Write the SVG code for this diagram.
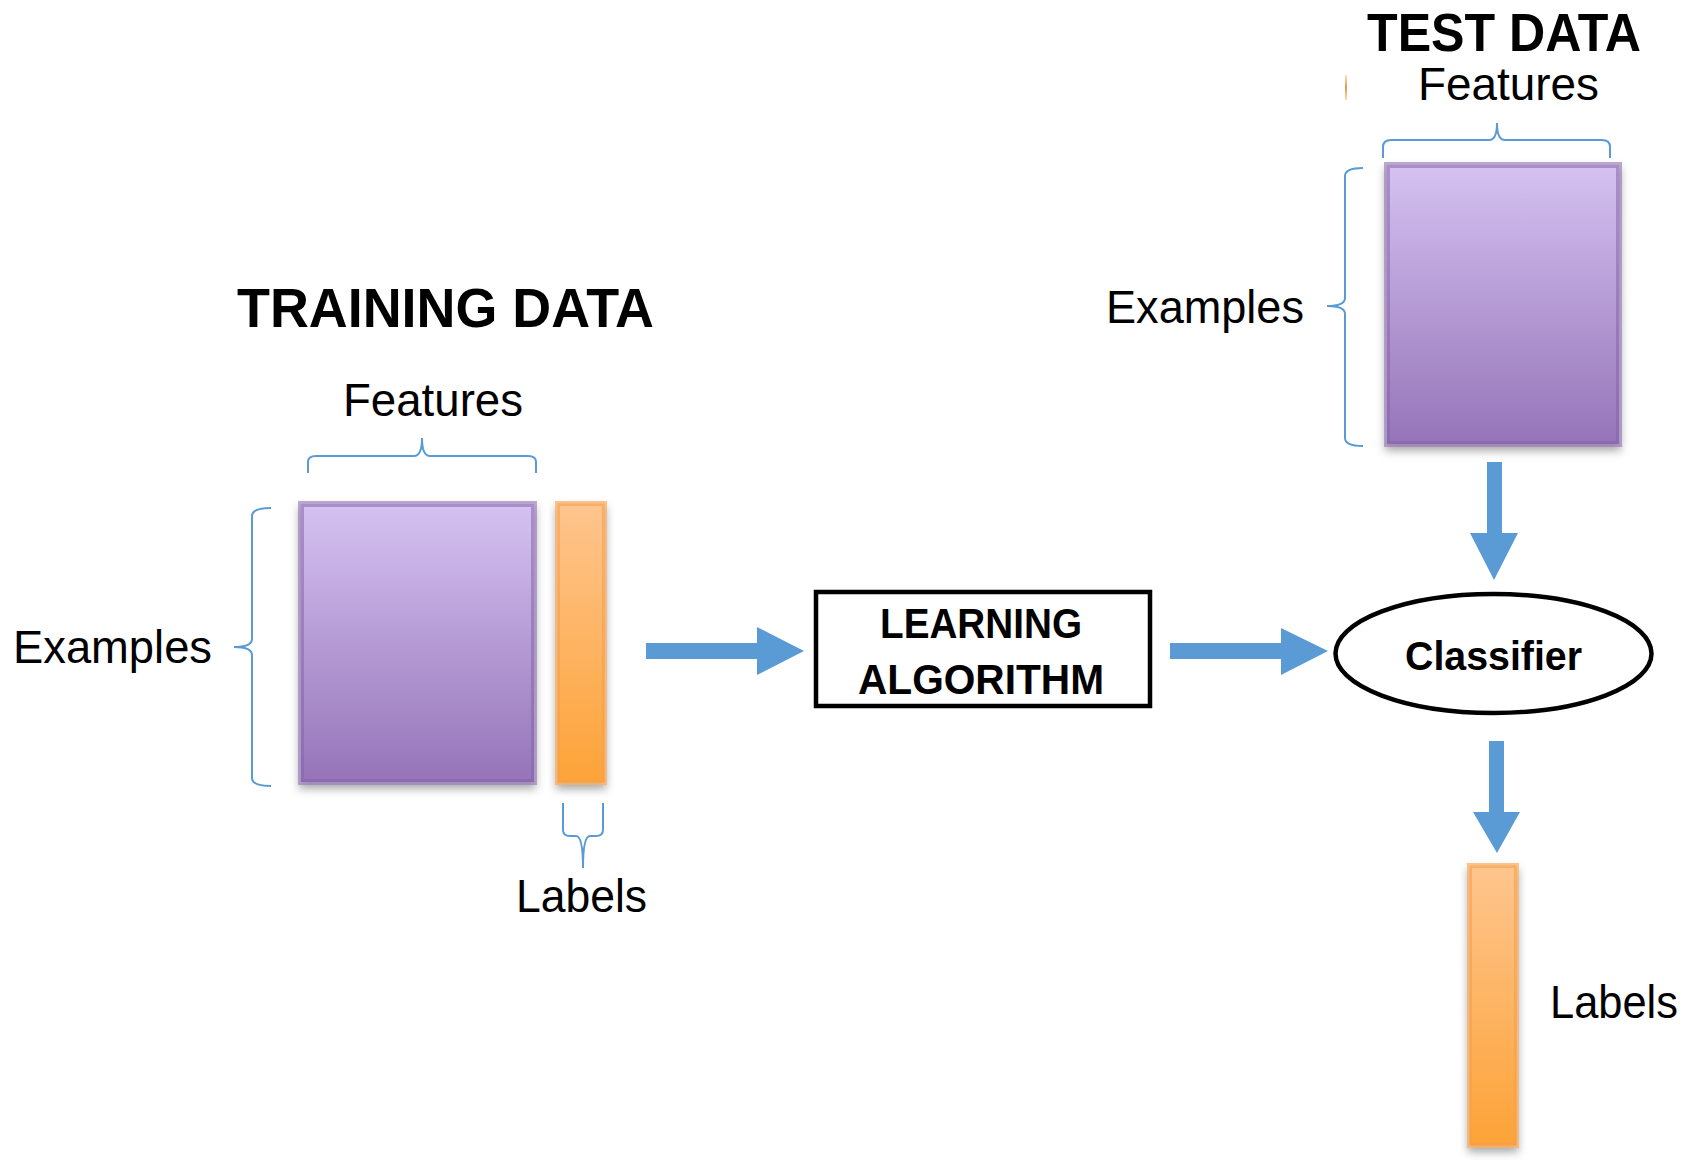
<svg xmlns="http://www.w3.org/2000/svg" width="1687" height="1160" viewBox="0 0 1687 1160">
  <defs>
    <linearGradient id="gPurple" x1="0" y1="0" x2="0" y2="1">
      <stop offset="0" stop-color="#d5c2f1"/>
      <stop offset="1" stop-color="#9574b8"/>
    </linearGradient>
    <linearGradient id="gOrange" x1="0" y1="0" x2="0" y2="1">
      <stop offset="0" stop-color="#fec58e"/>
      <stop offset="1" stop-color="#fda338"/>
    </linearGradient>
    <linearGradient id="gMark" x1="0" y1="0" x2="0" y2="1">
      <stop offset="0" stop-color="#fde2bd"/>
      <stop offset="0.5" stop-color="#e39a4c"/>
      <stop offset="1" stop-color="#fbd9ad"/>
    </linearGradient>
    <filter id="shadow" x="-20%" y="-10%" width="140%" height="125%">
      <feDropShadow dx="0" dy="5" stdDeviation="4" flood-color="#000" flood-opacity="0.35"/>
    </filter>
  </defs>
  <style>
    .lbl { font-family: "Liberation Sans", Arial, sans-serif; font-size: 46px; fill: #000; }
    .ttl { font-family: "Liberation Sans", Arial, sans-serif; font-weight: bold; fill: #000; }
    .brace { fill: none; stroke: #5b9bd5; stroke-width: 2; }
    .purple { fill: url(#gPurple); stroke: #8565ab; stroke-opacity: 0.55; stroke-width: 6; }
    .orange { fill: url(#gOrange); stroke: #f79f4a; stroke-opacity: 0.6; stroke-width: 5; }
    .arrow { fill: #5b9bd5; }
    .outline { fill: #fff; stroke: #000; stroke-width: 4.5; }
  </style>
  <rect width="1687" height="1160" fill="#fff"/>

  <!-- Training data -->
  <g id="training-title">
    <text class="ttl" x="237" y="327" font-size="56" textLength="417" lengthAdjust="spacingAndGlyphs">TRAINING DATA</text>
  </g>
  <g id="training-features">
    <text class="lbl" x="343" y="416" textLength="180" lengthAdjust="spacingAndGlyphs">Features</text>
    <path class="brace" d="M308,473 L308,462 Q308,456 316,456 L414,456 Q422,456 422,438 Q422,456 430,456 L528,456 Q536,456 536,462 L536,473"/>
    <text class="lbl" x="13" y="663" textLength="199" lengthAdjust="spacingAndGlyphs">Examples</text>
    <path class="brace" d="M271,508 Q252,508 252,516 L252,639 Q252,647 234,647 Q252,647 252,655 L252,778 Q252,786 271,786"/>
    <rect class="purple" x="301" y="504" width="233" height="278" filter="url(#shadow)"/>
  </g>
  <g id="training-labels">
    <rect class="orange" x="557.5" y="503.5" width="47" height="279" filter="url(#shadow)"/>
    <path class="brace" d="M563,803 L563,830 Q563,836 570,836 L576,836 Q583,836 583,868 Q583,836 590,836 L596,836 Q603,836 603,830 L603,803"/>
    <text class="lbl" x="516" y="912" textLength="131" lengthAdjust="spacingAndGlyphs">Labels</text>
  </g>

  <!-- Learning algorithm -->
  <g id="learning-algorithm">
    <rect class="outline" x="816" y="592" width="334" height="114"/>
    <text class="ttl" x="880" y="638" font-size="42" textLength="202" lengthAdjust="spacingAndGlyphs">LEARNING</text>
    <text class="ttl" x="858" y="694" font-size="42" textLength="246" lengthAdjust="spacingAndGlyphs">ALGORITHM</text>
  </g>

  <!-- Classifier -->
  <g id="classifier">
    <ellipse class="outline" cx="1493.5" cy="653.5" rx="158" ry="59.5"/>
    <text class="ttl" x="1405" y="670" font-size="41" textLength="177" lengthAdjust="spacingAndGlyphs">Classifier</text>
  </g>

  <!-- Test data -->
  <g id="test-title">
    <text class="ttl" x="1367" y="51" font-size="54" textLength="274" lengthAdjust="spacingAndGlyphs">TEST DATA</text>
    <rect x="1345" y="75" width="2" height="25" fill="url(#gMark)"/>
  </g>
  <g id="test-features">
    <text class="lbl" x="1418" y="100" textLength="181" lengthAdjust="spacingAndGlyphs">Features</text>
    <path class="brace" d="M1383,158 L1383,147 Q1383,140 1391,140 L1489,140 Q1497,140 1497,123 Q1497,140 1505,140 L1602,140 Q1610,140 1610,147 L1610,158"/>
    <text class="lbl" x="1106" y="323" textLength="198" lengthAdjust="spacingAndGlyphs">Examples</text>
    <path class="brace" d="M1363,168 Q1345,168 1345,176 L1345,298 Q1345,306 1327,306 Q1345,306 1345,314 L1345,438 Q1345,446 1363,446"/>
    <rect class="purple" x="1387" y="165" width="232" height="279" filter="url(#shadow)"/>
  </g>
  <g id="test-labels">
    <rect class="orange" x="1469.5" y="865.5" width="47" height="280" filter="url(#shadow)"/>
    <text class="lbl" x="1550" y="1018" textLength="128" lengthAdjust="spacingAndGlyphs">Labels</text>
  </g>

  <!-- Block arrows between stages -->
  <g id="connectors">
    <polygon class="arrow" points="646,643 757,643 757,627 804,651 757,675 757,659 646,659"/>
    <polygon class="arrow" points="1170,643 1281,643 1281,628 1328,651 1281,675 1281,659 1170,659"/>
    <polygon class="arrow" points="1487,462 1502,462 1502,533 1518,533 1494,580 1470,533 1487,533"/>
    <polygon class="arrow" points="1489,741 1504,741 1504,812 1520,812 1497,853 1473,812 1489,812"/>
  </g>
</svg>
